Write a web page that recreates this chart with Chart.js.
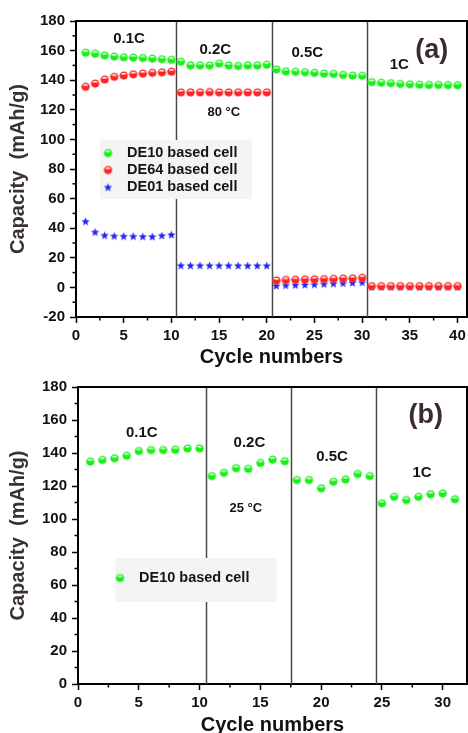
<!DOCTYPE html>
<html>
<head>
<meta charset="utf-8">
<script src="https://cdn.jsdelivr.net/npm/chart.js@4.4.1/dist/chart.umd.min.js"></script>
<style>
  html, body { margin: 0; padding: 0; background: #fff; overflow: hidden; }
  #wrapA { position: absolute; left: 0; top: 0; width: 468px; height: 372px; }
  #wrapB { position: absolute; left: 0; top: 372px; width: 468px; height: 368px; }
</style>
</head>
<body>
<div id="wrapA"><canvas id="chartA" width="468" height="372"></canvas></div>
<div id="wrapB"><canvas id="chartB" width="468" height="368"></canvas></div>
<script>
// ---- Panel (a): 80 °C rate capability, three electrolytes ----
const cyclesA = [1,2,3,4,5,6,7,8,9,10,11,12,13,14,15,16,17,18,19,20,
                 21,22,23,24,25,26,27,28,29,30,31,32,33,34,35,36,37,38,39,40];
const de10A = [158.6,157.9,156.8,156,155.5,155.3,155,154.6,154.2,153.8,
               152.5,150,150,150,151.2,150,149.6,150,150,150.5,
               147.3,146,145.7,145.4,145,144.5,144.3,143.6,143.1,143,
               138.7,138.3,138,137.5,137.3,137,136.8,136.8,136.7,136.6];
const de64A = [135.6,137.8,140.5,142.3,143.2,144,144.5,145,145.3,145.8,
               131.8,131.8,131.8,132,131.8,131.8,131.8,131.8,131.8,131.8,
               4.7,5,5.2,5.4,5.5,5.6,5.8,6,6.1,6.5,
               0.9,0.9,0.9,0.9,0.9,0.9,0.9,0.9,0.9,0.9];
const de01A = [44.8,37.6,35.4,34.9,34.8,34.7,34.6,34.5,35.2,35.8,
               15,15,15,15,15,15,14.9,14.9,14.9,14.9,
               1.3,1.6,1.8,2,2.2,2.5,2.8,3,3.3,3.6,
               0.5,0.5,0.5,0.5,0.5,0.5,0.5,0.5,0.5,0.5];
const seriesNamesA = ['DE10 based cell', 'DE64 based cell', 'DE01 based cell'];
const rateStepsA = [10.5, 20.5, 30.5];
const rateLabelsA = ['0.1C', '0.2C', '0.5C', '1C'];
const yRangeA = [-20, 180];
const xRangeA = [0, 41];

// ---- Panel (b): 25 °C rate capability, DE10 ----
const cyclesB = [1,2,3,4,5,6,7,8,9,10,11,12,13,14,15,16,17,18,19,20,
                 21,22,23,24,25,26,27,28,29,30,31];
const de10B = [134.8,135.8,136.8,138.4,141.2,141.8,141.8,142,142.8,142.8,
               126,128,130.8,130.4,134,136,135,
               123.6,123.6,118.6,122.6,124,127.3,126,
               109.5,113.5,111.5,113.5,115,115.5,112];
const seriesNamesB = ['DE10 based cell'];
const rateStepsB = [10.5, 17.5, 24.5];
const rateLabelsB = ['0.1C', '0.2C', '0.5C', '1C'];
const yRangeB = [0, 180];
const xRangeB = [0, 32];

const FONT = '"Liberation Sans", Arial, Helvetica, sans-serif';
const GREEN = '#19f019', RED = '#ff2424', BLUE = '#2424f0';

// Circle marker: white cap on top, colour-filled lower part
function halfDisc(color, r) {
  const s = Math.ceil(2 * r + 3);
  const c = document.createElement('canvas');
  c.width = s; c.height = s;
  const g = c.getContext('2d');
  const m = s / 2;
  g.beginPath(); g.arc(m, m, r, 0, Math.PI * 2);
  g.fillStyle = '#fff'; g.fill();
  g.save();
  g.beginPath(); g.arc(m, m, r, 0, Math.PI * 2); g.clip();
  g.fillStyle = color; g.fillRect(0, m - 1, s, s);
  g.restore();
  g.beginPath(); g.arc(m, m, r - 0.4, 0, Math.PI * 2);
  g.strokeStyle = color; g.lineWidth = 1.3; g.stroke();
  return c;
}

// Filled five-point star marker
function starMark(color, R) {
  const s = Math.ceil(2 * R + 2);
  const c = document.createElement('canvas');
  c.width = s; c.height = s;
  const g = c.getContext('2d');
  const m = s / 2;
  g.beginPath();
  for (let i = 0; i < 10; i++) {
    const rr = i % 2 === 0 ? R : R * 0.42;
    const a = -Math.PI / 2 + i * Math.PI / 5;
    const px = m + rr * Math.cos(a), py = m + 0.6 + rr * Math.sin(a);
    if (i === 0) g.moveTo(px, py); else g.lineTo(px, py);
  }
  g.closePath();
  g.fillStyle = color; g.fill();
  return c;
}

const markGreen = halfDisc(GREEN, 3.8);
const markRed = halfDisc(RED, 3.8);
const markBlue = starMark(BLUE, 4.4);

function toPoints(xs, ys) { return xs.map((x, i) => ({ x: x, y: ys[i] })); }

// Rate-step dividers, frame, minor ticks, in-plot legend and labels
const decorPlugin = {
  id: 'decor',
  beforeDatasetsDraw(chart, args, opts) {
    const { ctx, chartArea: a, scales: { x } } = chart;
    ctx.save();
    ctx.strokeStyle = '#4a4a4a';
    ctx.lineWidth = 1.5;
    opts.steps.forEach(v => {
      const px = Math.round(x.getPixelForValue(v)) + 0.5;
      ctx.beginPath(); ctx.moveTo(px, a.top); ctx.lineTo(px, a.bottom); ctx.stroke();
    });
    ctx.restore();
  },
  afterDatasetsDraw(chart, args, opts) {
    const { ctx, scales: { x, y } } = chart;
    ctx.save();
    // legend box
    const L = opts.legend;
    ctx.fillStyle = '#f4f4f4';
    ctx.fillRect(L.x, L.y, L.w, L.h);
    ctx.font = 'bold 14.5px ' + FONT;
    ctx.textBaseline = 'middle';
    ctx.textAlign = 'left';
    ctx.fillStyle = '#141414';
    chart.data.datasets.forEach((ds, i) => {
      const cy = L.firstRow + i * L.rowGap;
      const img = ds.pointStyle;
      ctx.drawImage(img, L.markX - img.width / 2, cy - img.height / 2);
      ctx.fillText(ds.label, L.textX, cy);
    });
    // rate / temperature labels
    ctx.textAlign = 'center';
    opts.labels.forEach(t => {
      ctx.font = 'bold ' + t.size + 'px ' + FONT;
      ctx.fillStyle = t.color || '#141414';
      ctx.fillText(t.text, x.getPixelForValue(t.x), y.getPixelForValue(t.y));
    });
    ctx.restore();
  },
  afterDraw(chart) {
    const { ctx, chartArea: a, scales: { x, y } } = chart;
    ctx.save();
    ctx.strokeStyle = '#000';
    ctx.lineWidth = 2;
    ctx.beginPath();
    ctx.moveTo(a.left, a.top); ctx.lineTo(a.right, a.top); ctx.lineTo(a.right, a.bottom);
    ctx.stroke();
    ctx.lineWidth = 1.5;
    const xt = x.ticks.map(t => t.value);
    for (let i = 0; i < xt.length; i++) {
      const v = xt[i] + (xt[1] - xt[0]) / 2;
      if (v >= x.max) break;
      const px = x.getPixelForValue(v);
      ctx.beginPath(); ctx.moveTo(px, a.bottom); ctx.lineTo(px, a.bottom + 3.5); ctx.stroke();
    }
    const yt = y.ticks.map(t => t.value);
    for (let i = 0; i < yt.length; i++) {
      const v = yt[i] + (yt[1] - yt[0]) / 2;
      if (v >= y.max) break;
      const py = y.getPixelForValue(v);
      ctx.beginPath(); ctx.moveTo(a.left - 3.5, py); ctx.lineTo(a.left, py); ctx.stroke();
    }
    ctx.restore();
  }
};

function axisX(range, fitHeight) {
  return {
    type: 'linear', position: 'bottom', min: range[0], max: range[1],
    ticks: { stepSize: 5, includeBounds: false, autoSkip: false, maxRotation: 0,
             padding: 4, color: '#111', font: { family: FONT, size: 15, weight: 'bold' } },
    grid: { drawOnChartArea: false, drawTicks: true, tickLength: 6, tickWidth: 1.5, tickColor: '#000' },
    border: { display: true, color: '#000', width: 2 },
    title: { display: true, text: 'Cycle numbers', color: '#111',
             font: { family: FONT, size: 20, weight: 'bold', lineHeight: 1.2 },
             padding: { top: 0, bottom: 3 } },
    afterFit(s) { s.height = fitHeight; s.paddingLeft = 0; s.paddingRight = 0; }
  };
}

function axisY(range, fitWidth) {
  return {
    type: 'linear', position: 'left', min: range[0], max: range[1],
    ticks: { stepSize: 20, includeBounds: false, padding: 5, color: '#111',
             font: { family: FONT, size: 15, weight: 'bold' } },
    grid: { drawOnChartArea: false, drawTicks: true, tickLength: 6, tickWidth: 1.5, tickColor: '#000' },
    border: { display: true, color: '#000', width: 2 },
    title: { display: true, text: 'Capacity  (mAh/g)', color: '#3a3232',
             font: { family: FONT, size: 20, weight: 'bold', lineHeight: 1.2 },
             padding: { top: 6, bottom: 0 } },
    afterFit(s) { s.width = fitWidth; s.paddingTop = 0; s.paddingBottom = 0; }
  };
}

function dataset(label, xs, ys, mark) {
  return { label: label, data: toPoints(xs, ys), pointStyle: mark,
           pointRadius: 4, showLine: false, backgroundColor: 'transparent', borderColor: 'transparent' };
}

const common = {
  responsive: false, animation: false, devicePixelRatio: 1,
  events: [],
  plugins: { legend: { display: false }, tooltip: { enabled: false } }
};

new Chart(document.getElementById('chartA'), {
  type: 'scatter',
  data: { datasets: [
    dataset(seriesNamesA[0], cyclesA, de10A, markGreen),
    dataset(seriesNamesA[1], cyclesA, de64A, markRed),
    dataset(seriesNamesA[2], cyclesA, de01A, markBlue)
  ] },
  options: Object.assign({}, common, {
    layout: { autoPadding: false, padding: { top: 21, right: 1, left: 0, bottom: 0 } },
    scales: { x: axisX(xRangeA, 55), y: axisY(yRangeA, 76) },
    plugins: Object.assign({}, common.plugins, {
      decor: {
        steps: rateStepsA,
        legend: { x: 100, y: 140, w: 152, h: 59, firstRow: 153, rowGap: 17, markX: 108, textX: 127 },
        labels: [
          { text: rateLabelsA[0], x: 5.56, y: 168.2, size: 15 },
          { text: rateLabelsA[1], x: 14.6, y: 160.8, size: 15 },
          { text: '80 °C', x: 15.5, y: 118.2, size: 13 },
          { text: rateLabelsA[2], x: 24.25, y: 158.8, size: 15 },
          { text: rateLabelsA[3], x: 33.9, y: 150.7, size: 15 },
          { text: '(a)', x: 37.3, y: 160.1, size: 27, color: '#3a2c2c' }
        ]
      }
    })
  }),
  plugins: [decorPlugin]
});

new Chart(document.getElementById('chartB'), {
  type: 'scatter',
  data: { datasets: [
    dataset(seriesNamesB[0], cyclesB, de10B, markGreen)
  ] },
  options: Object.assign({}, common, {
    layout: { autoPadding: false, padding: { top: 15, right: 1, left: 0, bottom: 0 } },
    scales: { x: axisX(xRangeB, 56), y: axisY(yRangeB, 78) },
    plugins: Object.assign({}, common.plugins, {
      decor: {
        steps: rateStepsB,
        legend: { x: 115, y: 186, w: 162, h: 44, firstRow: 206, rowGap: 17, markX: 120, textX: 139 },
        labels: [
          { text: rateLabelsB[0], x: 5.25, y: 152.1, size: 15 },
          { text: rateLabelsB[1], x: 14.1, y: 146.1, size: 15 },
          { text: '25 °C', x: 13.8, y: 106.7, size: 13 },
          { text: rateLabelsB[2], x: 20.9, y: 137.6, size: 15 },
          { text: rateLabelsB[3], x: 28.3, y: 127.9, size: 15 },
          { text: '(b)', x: 28.6, y: 163, size: 27, color: '#3a2c2c' }
        ]
      }
    })
  }),
  plugins: [decorPlugin]
});
</script>
</body>
</html>
